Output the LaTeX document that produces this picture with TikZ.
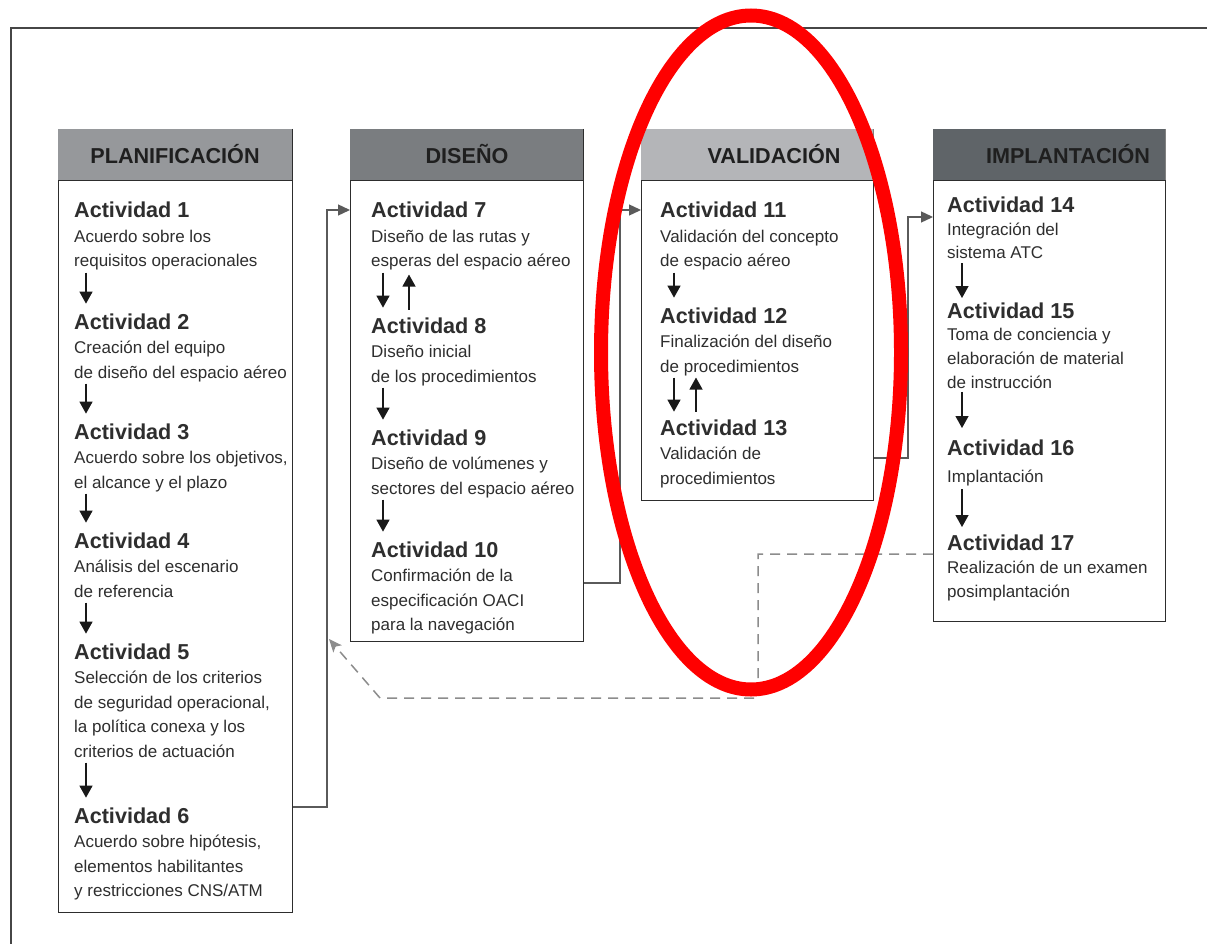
\documentclass[tikz,border=0pt]{standalone}
\usepackage{fontspec}
\setmainfont{Liberation Sans}
\usetikzlibrary{arrows.meta}
\definecolor{hdrA}{RGB}{150,152,155}
\definecolor{hdrB}{RGB}{122,125,128}
\definecolor{hdrC}{RGB}{180,181,184}
\definecolor{hdrD}{RGB}{95,100,104}
\definecolor{edgecol}{RGB}{45,45,45}
\definecolor{conncol}{RGB}{90,90,90}
\definecolor{dashcol}{RGB}{140,140,140}
\definecolor{framecol}{RGB}{70,70,70}
\newcommand\acttitle[1]{{\fontsize{21.6}{24}\selectfont\bfseries #1}}
\newcommand\actblock[2]{\begin{tabular}[t]{@{}l@{}}\acttitle{#1}\\#2\end{tabular}}
\newcommand\actblockb[3]{\begin{tabular}[t]{@{}l@{}}\acttitle{#1}\\[#3]#2\end{tabular}}
\begin{document}
\begin{tikzpicture}[x=1pt,y=-1pt,
  hdr/.style={anchor=north west,inner sep=0,minimum height=51pt},
  body/.style={anchor=north west,draw=edgecol,line width=1.4pt,inner sep=0,fill=white},
  hdrtext/.style={anchor=base,inner sep=0,font=\fontsize{21.6}{24}\selectfont\bfseries,text=black!88},
  act/.style={anchor=base west,inner sep=0,font=\fontsize{17}{24.5}\selectfont,text=black!82},
  actb/.style={anchor=base west,inner sep=0,font=\fontsize{17}{24}\selectfont,text=black!82},
  inarr/.style={line width=1.3pt,draw=black!90,-{Triangle[width=13pt,length=12pt]}},
  connline/.style={draw=conncol,line width=1.3pt,-{Triangle[width=11pt,length=12pt]}},
  fb/.style={draw=dashcol,line width=1.5pt,dash pattern=on 10pt off 7pt,-{Stealth[width=11pt,length=13pt,inset=3pt]}}
]
\useasboundingbox (0,0) rectangle (1207,944);
\fill[white] (0,0) rectangle (1207,944);
% outer frame
\draw[framecol,line width=1.5pt] (1207,28) -- (11,28) -- (11,944);

% headers
\node[hdr,fill=hdrA,minimum width=234pt] (h1) at (58,129) {};
\node[hdr,fill=hdrB,minimum width=233pt] (h2) at (350,129) {};
\node[hdr,fill=hdrC,minimum width=232pt] (h3) at (641,129) {};
\node[hdr,fill=hdrD,minimum width=232pt] (h4) at (933,129) {};
% bodies
\node[body,minimum width=234pt,minimum height=732pt] (b1) at (58,180) {};
\node[body,minimum width=233pt,minimum height=461pt] (b2) at (350,180) {};
\node[body,minimum width=232pt,minimum height=320pt] (b3) at (641,180) {};
\node[body,minimum width=232pt,minimum height=441pt] (b4) at (933,180) {};
\draw[edgecol,line width=1.4pt] (h1.north east) -- (h1.south east);
\draw[edgecol,line width=1.4pt] (h2.north east) -- (h2.south east);
\draw[edgecol!60,line width=1.2pt] (h3.north east) -- (h3.south east);
\draw[edgecol!60,line width=1.2pt] (h4.north east) -- (h4.south east);

% header texts
\node[hdrtext] (t1) at (175,164) {PLANIFICACIÓN};
\node[hdrtext] (t2) at (467,164) {DISEÑO};
\node[hdrtext] (t3) at (774,164) {VALIDACIÓN};
\node[hdrtext] (t4) at (1068,164) {IMPLANTACIÓN};

% column 1
\node[act] (a1) at (74,218) {\actblock{Actividad 1}{Acuerdo sobre los\\requisitos operacionales}};
\node[act] (a2) at (74,329) {\actblock{Actividad 2}{Creación del equipo\\de diseño del espacio aéreo}};
\node[act] (a3) at (74,439) {\actblock{Actividad 3}{Acuerdo sobre los objetivos,\\el alcance y el plazo}};
\node[act] (a4) at (74,548) {\actblock{Actividad 4}{Análisis del escenario\\de referencia}};
\node[act] (a5) at (74,659) {\actblock{Actividad 5}{Selección de los criterios\\de seguridad operacional,\\la política conexa y los\\criterios de actuación}};
\node[act] (a6) at (74,823) {\actblock{Actividad 6}{Acuerdo sobre hipótesis,\\elementos habilitantes\\y restricciones CNS/ATM}};

% column 2
\node[act] (a7) at (371,218) {\actblock{Actividad 7}{Diseño de las rutas y\\esperas del espacio aéreo}};
\node[act] (a8) at (371,333) {\actblock{Actividad 8}{Diseño inicial\\de los procedimientos}};
\node[act] (a9) at (371,445) {\actblock{Actividad 9}{Diseño de volúmenes y\\sectores del espacio aéreo}};
\node[act] (a10) at (371,557) {\actblock{Actividad 10}{Confirmación de la\\especificación OACI\\para la navegación}};

% column 3
\node[act] (a11) at (660,218) {\actblock{Actividad 11}{Validación del concepto\\de espacio aéreo}};
\node[act] (a12) at (660,323) {\actblock{Actividad 12}{Finalización del diseño\\de procedimientos}};
\node[act] (a13) at (660,435) {\actblock{Actividad 13}{Validación de\\procedimientos}};

% column 4
\node[actb] (a14) at (947,212) {\actblockb{Actividad 14}{Integración del\\sistema ATC}{-1pt}};
\node[actb] (a15) at (947,318) {\actblockb{Actividad 15}{Toma de conciencia y\\elaboración de material\\de instrucción}{-1.5pt}};
\node[actb] (a16) at (947,455) {\actblockb{Actividad 16}{Implantación}{3pt}};
\node[actb] (a17) at (947,550) {\actblockb{Actividad 17}{Realización de un examen\\posimplantación}{-1pt}};

% arrows column 1
\draw[inarr] ([xshift=12pt,yshift=2pt]a1.south west) -- ([xshift=12pt,yshift=8pt]a2.north west);
\draw[inarr] ([xshift=12pt,yshift=2pt]a2.south west) -- ([xshift=12pt,yshift=8pt]a3.north west);
\draw[inarr] ([xshift=12pt,yshift=2pt]a3.south west) -- ([xshift=12pt,yshift=8pt]a4.north west);
\draw[inarr] ([xshift=12pt,yshift=2pt]a4.south west) -- ([xshift=12pt,yshift=8pt]a5.north west);
\draw[inarr] ([xshift=12pt,yshift=2pt]a5.south west) -- ([xshift=12pt,yshift=8pt]a6.north west);
% arrows column 2
\draw[inarr] ([xshift=12pt,yshift=2pt]a7.south west) -- ([xshift=12pt,yshift=8pt]a8.north west);
\draw[inarr] ([xshift=38pt,yshift=6pt]a8.north west) -- ([xshift=38pt,yshift=0pt]a7.south west);
\draw[inarr] ([xshift=12pt,yshift=2pt]a8.south west) -- ([xshift=12pt,yshift=8pt]a9.north west);
\draw[inarr] ([xshift=12pt,yshift=2pt]a9.south west) -- ([xshift=12pt,yshift=8pt]a10.north west);
% arrows column 3
\draw[inarr] ([xshift=14pt,yshift=2pt]a11.south west) -- ([xshift=14pt,yshift=8pt]a12.north west);
\draw[inarr] ([xshift=14pt,yshift=2pt]a12.south west) -- ([xshift=14pt,yshift=6pt]a13.north west);
\draw[inarr] ([xshift=36pt,yshift=6pt]a13.north west) -- ([xshift=36pt,yshift=2pt]a12.south west);
% arrows column 4
\draw[inarr] ([xshift=15pt,yshift=3pt]a14.south west) -- ([xshift=15pt,yshift=3pt]a15.north west);
\draw[inarr] ([xshift=15pt,yshift=4pt]a15.south west) -- ([xshift=15pt,yshift=10pt]a16.north west);
\draw[inarr] ([xshift=15pt,yshift=0pt]a16.south west) -- ([xshift=15pt,yshift=6pt]a17.north west);

% connectors between phases
\draw[connline] (b1.east |- 0,807) -| (327,210) -- (b2.west |- 0,210);
\draw[connline] (b2.east |- 0,583) -| (620,210) -- (b3.west |- 0,210);
\draw[connline] (b3.east |- 0,458) -| (908,217) -- (b4.west |- 0,217);
% feedback
\draw[fb] (b4.west |- 0,554) -- (758,554) -- (758,698) -- (380,698) -- (329,639);

% red ellipse
\draw[red,line width=14pt] (751,352.5) ellipse [x radius=150pt, y radius=337pt];
\end{tikzpicture}
\end{document}
